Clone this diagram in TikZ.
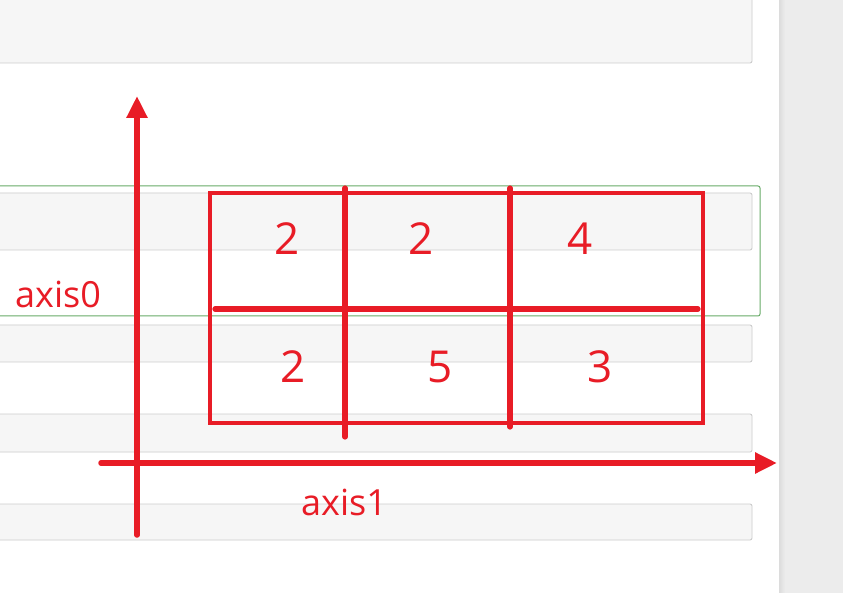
\documentclass[tikz,border=0pt]{standalone}
\usepackage{fontspec}
\setmainfont{Open Sans}
\usetikzlibrary{arrows.meta}
\definecolor{axred}{RGB}{232,28,38}
\definecolor{barfill}{RGB}{246,246,246}
\definecolor{barline}{RGB}{204,204,204}
\definecolor{grn}{RGB}{104,172,104}
\definecolor{strip}{RGB}{236,236,236}
\tikzset{
  bar/.style={fill=barfill,draw=barline,line width=0.9pt,rounded corners=2pt},
  axisline/.style={draw=axred,line width=5.5pt,line cap=round,-{Triangle[length=22pt,width=20pt]}},
  divider/.style={draw=axred,line width=5.2pt,line cap=round},
  cellnum/.style={text=axred,font=\fontsize{44}{48}\selectfont,inner sep=0pt},
  axlabel/.style={text=axred,font=\fontsize{36}{40}\selectfont,inner sep=0pt,anchor=base west}
}
\begin{document}
\begin{tikzpicture}[x=1pt,y=-1pt]
\useasboundingbox (0,0) rectangle (843,593);
\fill[white] (0,0) rectangle (843,593);
% right strip
\fill[strip] (779,0) rectangle (843,593);
\shade[left color=strip!85!gray,right color=strip] (779,0) rectangle (785,593);
% form bars
\draw[bar] (-3,-3) rectangle (752,63);
\draw[grn,line width=1pt,rounded corners=2pt] (-3,186) rectangle (760,316);
\draw[bar] (-3,193) rectangle (752,250);
\draw[bar] (-3,325) rectangle (752,362);
\draw[bar] (-3,414) rectangle (752,452);
\draw[bar] (-3,504) rectangle (752,540);
% grid
\draw[axred,line width=3.2pt] (210,193) rectangle (703,423);
\coordinate (hl) at (215,309);
\coordinate (hr) at (698,309);
\coordinate (v1t) at (345,188);
\coordinate (v1b) at (345,437);
\coordinate (v2t) at (510,188);
\coordinate (v2b) at (510,427);
\draw[divider] (hl) -- (hr);
\draw[divider] (v1t) -- (v1b);
\draw[divider] (v2t) -- (v2b);
% numbers
\node[cellnum] (a11) at (287,239) {2};
\node[cellnum] (a12) at (421,239) {2};
\node[cellnum] (a13) at (580,239) {4};
\node[cellnum] (a21) at (293,367) {2};
\node[cellnum] (a22) at (440,367) {5};
\node[cellnum] (a23) at (600,367) {3};
% axes
\coordinate (y0) at (137,535);
\coordinate (y1) at (137,96);
\coordinate (x0) at (101,463);
\coordinate (x1) at (777,463);
\draw[axisline] (y0) -- (y1);
\draw[axisline] (x0) -- (x1);
\node[axlabel] (ax0) at (15,308) {axis0};
\node[axlabel] (ax1) at (301,515) {axis1};
\end{tikzpicture}
\end{document}
